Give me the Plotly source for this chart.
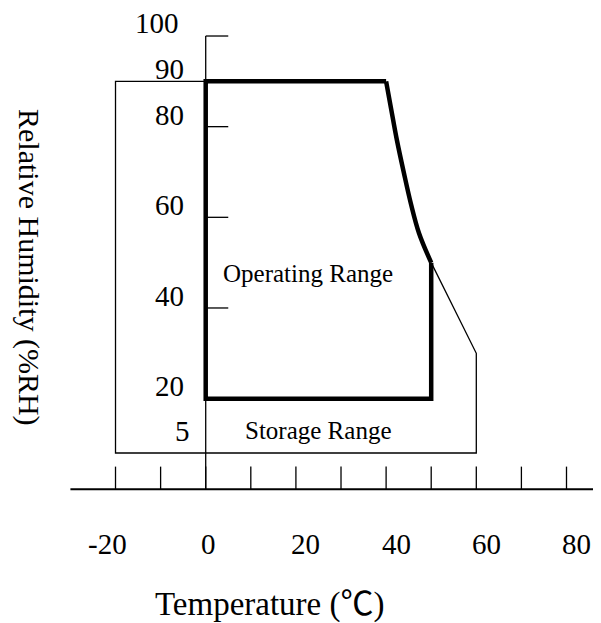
import plotly.graph_objects as go

# ---------------- data ----------------
temp_minor_ticks = [-20, -10, 0, 10, 20, 30, 40, 50, 60, 70, 80]
temp_label_values = [-20, 0, 20, 40, 60, 80]
temp_tick_labels = ["-20", "0", "20", "40", "60", "80"]

rh_tick_values = [100, 90, 80, 60, 40, 20]
rh_label_values = [100, 90, 80, 60, 40, 20, 5]
rh_tick_labels = ["100", "90", "80", "60", "40", "20", "5"]

# operating range boundary (thick): straight edges and the curved high-temperature edge
operating_box_temp = [50, 50, 0, 0, 40]
operating_box_rh = [50, 20, 20, 90, 90]
operating_curve_temp = [40, 41.1, 42.4, 43.9, 45.5, 47.3, 50]
operating_curve_rh = [90, 84, 77, 70, 63, 56.5, 50]

# storage range boundary (thin), part outside the operating outline
storage_temp = [50, 60, 60, -20, -20, 0]
storage_rh = [50, 30, 8, 8, 90, 90]

# axis extents
temp_axis_extent = [-30, 90]
rh_axis_extent = [0, 100]

# ---------------- styling ----------------
FONT = "Liberation Serif, Times New Roman, Noto Sans CJK SC, serif"
TICK_LEN = 5
W, H = 593, 615          # page body has an 8px margin
X_RANGE = [-43.84, 87.65]
Y_RANGE = [-29.5, 106.18]


def px(x):
    return (x - 8) / W


def py(y):
    return 1 - (y - 8) / H


fig = go.Figure()

fig.add_trace(go.Scatter(x=storage_temp, y=storage_rh, mode="lines",
                         line=dict(color="black", width=1.3), hoverinfo="skip"))

fig.add_trace(go.Scatter(x=[0, 0], y=rh_axis_extent, mode="lines",
                         line=dict(color="black", width=1.3), hoverinfo="skip"))
fig.add_trace(go.Scatter(x=temp_axis_extent, y=[0, 0], mode="lines",
                         line=dict(color="black", width=2), hoverinfo="skip"))

tx, ty = [], []
for t in temp_minor_ticks:
    tx += [t, t, None]
    ty += [0, TICK_LEN, None]
fig.add_trace(go.Scatter(x=tx, y=ty, mode="lines",
                         line=dict(color="black", width=1.3), hoverinfo="skip"))

yx, yy = [], []
for v in rh_tick_values:
    yx += [0, TICK_LEN, None]
    yy += [v, v, None]
fig.add_trace(go.Scatter(x=yx, y=yy, mode="lines",
                         line=dict(color="black", width=1.3), hoverinfo="skip"))

fig.add_trace(go.Scatter(x=operating_box_temp, y=operating_box_rh, mode="lines",
                         line=dict(color="black", width=4.5), hoverinfo="skip"))
fig.add_trace(go.Scatter(x=operating_curve_temp, y=operating_curve_rh, mode="lines",
                         line=dict(color="black", width=4.5, shape="spline", smoothing=1.0),
                         hoverinfo="skip"))

annotations = []
x_label_shift = [-8, 3, 10, 10, 10, 10]
for v, lab, sh in zip(temp_label_values, temp_tick_labels, x_label_shift):
    annotations.append(dict(x=v, y=0, xref="x", yref="y", text=lab, showarrow=False,
                            xanchor="center", yanchor="middle", xshift=sh, yshift=-55,
                            font=dict(family=FONT, size=29, color="black")))

y_label_xshift = [-25, -20, -20, -20, -20, -20, -14]
y_label_yshift = [13, 12, 12, 12, 12, 13, 36]
for v, lab, xs, ys in zip(rh_label_values, rh_tick_labels, y_label_xshift, y_label_yshift):
    annotations.append(dict(x=0, y=v, xref="x", yref="y", text=lab, showarrow=False,
                            xanchor="right", yanchor="middle", xshift=xs, yshift=ys,
                            font=dict(family=FONT, size=29, color="black")))

annotations.append(dict(x=px(308), y=py(273), xref="paper", yref="paper",
                        text="Operating Range", showarrow=False,
                        xanchor="center", yanchor="middle",
                        font=dict(family=FONT, size=25, color="black")))
annotations.append(dict(x=px(318), y=py(431), xref="paper", yref="paper",
                        text="Storage Range", showarrow=False,
                        xanchor="center", yanchor="middle",
                        font=dict(family=FONT, size=25, color="black")))
annotations.append(dict(x=px(270), y=py(604), xref="paper", yref="paper",
                        text="Temperature (℃)", showarrow=False,
                        xanchor="center", yanchor="middle",
                        font=dict(family=FONT, size=33, color="black")))
annotations.append(dict(x=px(29), y=py(267), xref="paper", yref="paper",
                        text="Relative Humidity (%RH)", showarrow=False, textangle=90,
                        xanchor="center", yanchor="middle",
                        font=dict(family=FONT, size=30, color="black")))

fig.update_layout(
    width=W, height=H, autosize=False,
    margin=dict(l=0, r=0, t=0, b=0),
    paper_bgcolor="white", plot_bgcolor="white",
    showlegend=False,
    xaxis=dict(range=X_RANGE, visible=False, fixedrange=True),
    yaxis=dict(range=Y_RANGE, visible=False, fixedrange=True),
    annotations=annotations,
)

fig.write_html("out.html")
